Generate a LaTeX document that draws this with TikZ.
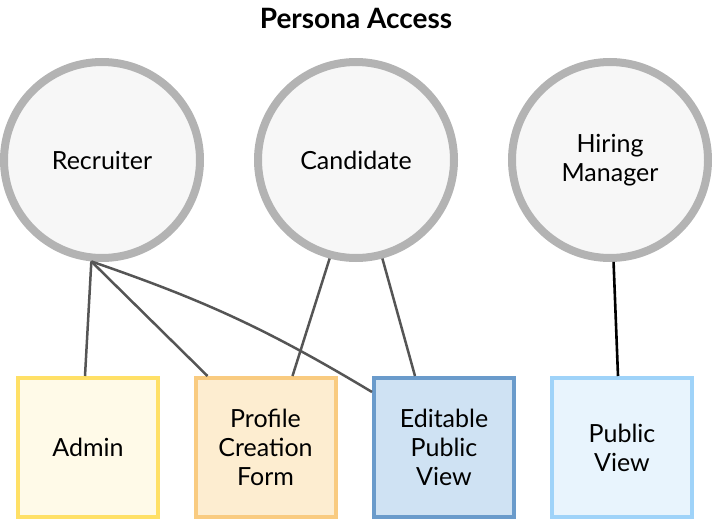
\documentclass[tikz,border=0pt]{standalone}
\usepackage{fontspec}
\setmainfont{Lato}
\usepackage{xcolor}
\definecolor{ringgray}{RGB}{179,179,179}
\definecolor{ringfill}{RGB}{247,247,247}
\definecolor{linkgray}{RGB}{85,85,85}
\definecolor{adminline}{RGB}{255,224,102}
\definecolor{adminfill}{RGB}{255,250,232}
\definecolor{formline}{RGB}{249,203,128}
\definecolor{formfill}{RGB}{253,237,208}
\definecolor{editline}{RGB}{106,155,203}
\definecolor{editfill}{RGB}{207,226,243}
\definecolor{viewline}{RGB}{159,211,249}
\definecolor{viewfill}{RGB}{232,244,253}
\usepackage{tikz}

\tikzset{
  persona/.style={circle, draw=ringgray, fill=ringfill, line width=8pt,
    minimum size=196pt, inner sep=0pt, align=center, font=\fontsize{25}{29}\selectfont},
  access/.style={rectangle, line width=4pt, minimum width=140pt, minimum height=139pt,
    inner sep=0pt, align=center, font=\fontsize{25}{29}\selectfont},
  link/.style={color=linkgray, line width=2.5pt}
}

\begin{document}
\begin{tikzpicture}[x=1pt, y=-1pt]
\useasboundingbox (0,0) rectangle (712,522);

% Title
\node[font=\bfseries\fontsize{28}{32}\selectfont] (T) at (356,18) {Persona Access};

% Personas
\node[persona] (R) at (102,160) {Recruiter};
\node[persona] (C) at (356,160) {Candidate};
\node[persona] (H) at (610,160) {Hiring\\Manager};

% Access
\node[access, draw=adminline, fill=adminfill] (A) at (88,447.5) {Admin};
\node[access, draw=formline, fill=formfill] (P) at (265.5,447.5) {Profile\\Creation\\Form};
\node[access, draw=editline, fill=editfill] (E) at (444,447.5) {Editable\\Public\\View};
\node[access, draw=viewline, fill=viewfill] (V) at (622,447.5) {Public\\View};

% Connections
\draw[link] (R.-96) -- ([xshift=-3pt]A.north);
\draw[link] (R.-96) -- ([xshift=14pt]P.north west);
\draw[link] (R.-96) to[bend left=6] ([yshift=-16pt]E.north west);
\draw[link] (C.-105) -- ([xshift=-45pt]P.north east);
\draw[link] (C.-75) -- ([xshift=43pt]E.north west);
\draw[color=black, line width=2.6pt] (H.-88) -- ([xshift=-4pt]V.north);
\end{tikzpicture}
\end{document}
